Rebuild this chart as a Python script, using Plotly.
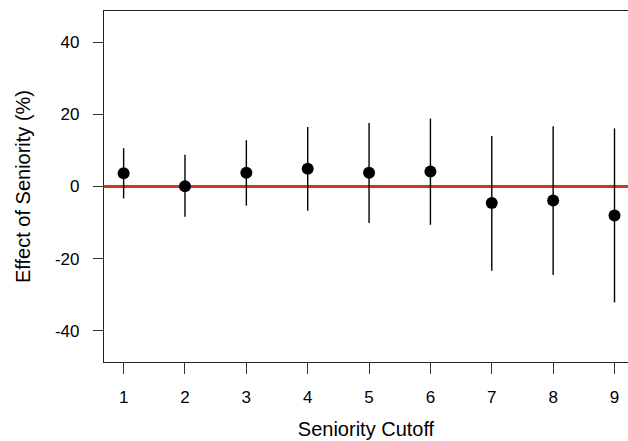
import plotly.graph_objects as go

cutoff = [1, 2, 3, 4, 5, 6, 7, 8, 9]
effect = [3.7, 0.1, 3.8, 4.9, 3.8, 4.15, -4.6, -3.9, -8.0]
upper = [10.6, 8.8, 12.8, 16.5, 17.6, 18.8, 14.0, 16.7, 16.1]
lower = [-3.3, -8.4, -5.3, -6.7, -10.1, -10.6, -23.3, -24.5, -32.1]
y_ticks = [-40, -20, 0, 20, 40]
y_tick_labels = ["-40", "-20", "0", "20", "40"]
x_ticks = cutoff

err_plus = [u - e for u, e in zip(upper, effect)]
err_minus = [e - l for e, l in zip(effect, lower)]

fig = go.Figure()
fig.add_trace(go.Scatter(
    x=cutoff, y=effect, mode="markers",
    marker=dict(color="black", size=12),
    error_y=dict(type="data", symmetric=False, array=err_plus, arrayminus=err_minus,
                 color="black", thickness=1.4, width=0),
    showlegend=False, cliponaxis=False,
))
fig.add_shape(type="line", xref="paper", x0=0, x1=1, yref="y", y0=0, y1=0,
              line=dict(color="#d0391b", width=3.2), layer="below")

font = "Liberation Sans, Arial, Helvetica, sans-serif"
fig.update_layout(
    width=628, height=441,
    margin=dict(l=104, r=0, t=11, b=79),
    paper_bgcolor="white", plot_bgcolor="white",
    font=dict(family=font, color="black", size=17),
    xaxis=dict(range=[0.68, 9.22], tickvals=x_ticks, ticks="outside", ticklen=11,
               tickwidth=1, tickcolor="#333", showline=True, linecolor="#222", linewidth=1.2,
               mirror=True, showgrid=False, zeroline=False,
               ticklabelstandoff=8,
               title=dict(text="Seniority Cutoff", font=dict(size=20), standoff=16),
               tickfont=dict(size=17)),
    yaxis=dict(range=[-48.6, 48.6], tickvals=y_ticks, ticktext=y_tick_labels,
               ticks="outside", ticklen=10,
               tickwidth=1, tickcolor="#333", showline=True, linecolor="#222", linewidth=1.2,
               showgrid=False, zeroline=False, ticklabelstandoff=10,
               title=dict(text="Effect of Seniority (%)", font=dict(size=20), standoff=18),
               tickfont=dict(size=17)),
)
fig.write_html("out.html", config={"displayModeBar": False},
               post_script="document.body.style.margin='0';document.body.style.padding='0';document.body.style.overflow='hidden';")
